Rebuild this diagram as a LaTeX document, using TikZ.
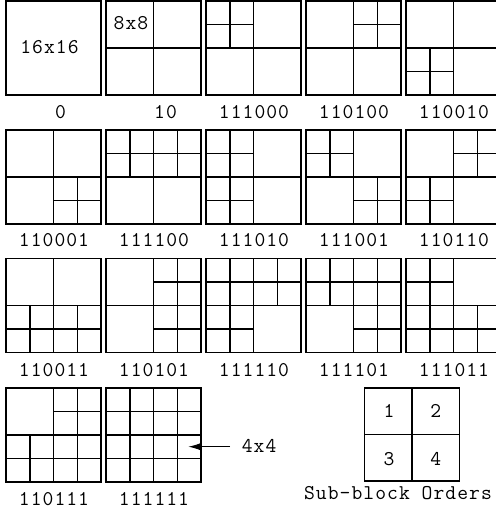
\documentclass[tikz,border=0pt]{standalone}
\usepackage{fontspec}
\newfontfamily\lbltt{Latin Modern Mono}[LetterSpace=5]
\usetikzlibrary{arrows.meta}
\newcommand\lblfont{\lbltt\fontsize{21bp}{25bp}\selectfont}
\tikzset{
  blk/.style={draw, line width=1.5bp, minimum width=95bp, minimum height=94bp,
    inner sep=0pt, outer sep=0pt, anchor=north west},
  grid/.style={line width=1.5bp},
  lbl/.style={anchor=base, inner sep=0pt, font=\lblfont},
  conn/.style={line width=1bp, -{Latex[length=12bp,width=7bp]}}
}
\newcommand\blk[8]{%
  \node[blk] (#1) at (#2,#3) {};
  \ifnum#4=1 \draw[grid] (#1.north) -- (#1.south) (#1.west) -- (#1.east);\fi
  \begin{scope}[shift={(#1.north west)}]
    \ifnum#5=1 \draw[grid] (23.75,0) -- (23.75,47) (0,23.5) -- (47.5,23.5);\fi
    \ifnum#6=1 \draw[grid] (71.25,0) -- (71.25,47) (47.5,23.5) -- (95,23.5);\fi
    \ifnum#7=1 \draw[grid] (23.75,47) -- (23.75,94) (0,70.5) -- (47.5,70.5);\fi
    \ifnum#8=1 \draw[grid] (71.25,47) -- (71.25,94) (47.5,70.5) -- (95,70.5);\fi
  \end{scope}%
}
\begin{document}
\begin{tikzpicture}[x=1bp, y=-1bp]
\useasboundingbox (0,0) rectangle (496,514);
% row 1
\blk{b0}{6}{0.8}{0}{0}{0}{0}{0}
\blk{b10}{106}{0.8}{1}{0}{0}{0}{0}
\blk{b111000}{206}{0.8}{1}{1}{0}{0}{0}
\blk{b110100}{306}{0.8}{1}{0}{1}{0}{0}
\blk{b110010}{406}{0.8}{1}{0}{0}{1}{0}
\node[lbl] (t16) at (49.5,54) {16x16};
\node[lbl] (t8) at (131,29.3) {8x8};
\node[lbl] (l0) at (60.5,118.3) {0};
\node[lbl] (l10) at (165.5,118.3) {10};
\node[lbl] (l111000) at (254,118.3) {111000};
\node[lbl] (l110100) at (354,118.3) {110100};
\node[lbl] (l110010) at (454,118.3) {110010};
% row 2
\blk{b110001}{6}{130}{1}{0}{0}{0}{1}
\blk{b111100}{106}{130}{1}{1}{1}{0}{0}
\blk{b111010}{206}{130}{1}{1}{0}{1}{0}
\blk{b111001}{306}{130}{1}{1}{0}{0}{1}
\blk{b110110}{406}{130}{1}{0}{1}{1}{0}
\node[lbl] (l110001) at (54,246.7) {110001};
\node[lbl] (l111100) at (154,246.7) {111100};
\node[lbl] (l111010) at (254,246.7) {111010};
\node[lbl] (l111001) at (354,246.7) {111001};
\node[lbl] (l110110) at (454,246.7) {110110};
% row 3
\blk{b110011}{6}{258.4}{1}{0}{0}{1}{1}
\blk{b110101}{106}{258.4}{1}{0}{1}{0}{1}
\blk{b111110}{206}{258.4}{1}{1}{1}{1}{0}
\blk{b111101}{306}{258.4}{1}{1}{1}{0}{1}
\blk{b111011}{406}{258.4}{1}{1}{0}{1}{1}
\node[lbl] (l110011) at (54,376.7) {110011};
\node[lbl] (l110101) at (154,376.7) {110101};
\node[lbl] (l111110) at (254,376.7) {111110};
\node[lbl] (l111101) at (354,376.7) {111101};
\node[lbl] (l111011) at (454,376.7) {111011};
% row 4
\blk{b110111}{6}{388}{1}{0}{1}{1}{1}
\blk{b111111}{106}{388}{1}{1}{1}{1}{1}
\node[lbl] (l110111) at (54,505) {110111};
\node[lbl] (l111111) at (154,505) {111111};
% 4x4 pointer
\node[lbl, anchor=base west, inner xsep=11.7bp] (t4) at (230,452.7) {4x4};
\coordinate (tip) at (188.3,446.7);
\draw[conn] (t4.west |- tip) -- (tip);
% sub-block orders
\node[blk, minimum width=95bp, minimum height=93bp] (sb) at (364.3,388) {};
\draw[grid] (sb.north) -- (sb.south) (sb.west) -- (sb.east);
\node[lbl] (s1) at (389,417.7) {1};
\node[lbl] (s2) at (435.8,417.7) {2};
\node[lbl] (s3) at (389,465) {3};
\node[lbl] (s4) at (435.8,465) {4};
\node[lbl] (sbo) at (398,499.3) {Sub-block Orders};
\end{tikzpicture}
\end{document}
